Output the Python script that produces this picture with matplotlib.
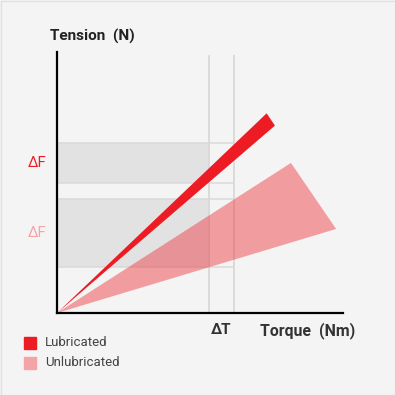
import matplotlib
matplotlib.use('Agg')
import matplotlib.pyplot as plt
from matplotlib.patches import Polygon, Rectangle

plt.rcParams['font.family'] = ['Roboto', 'DejaVu Sans']

# torque / tension in arbitrary units (axes run 0..10)
torque_marks = [5.31, 6.19]
lub_tip = [(7.33, 7.65), (7.62, 7.18)]
unlub_tip = [(8.18, 5.75), (9.76, 3.22)]
lub_band = (4.98, 6.51)
unlub_band = (1.76, 4.37)
series = ['Lubricated', 'Unlubricated']

RED = '#ed1c24'
PINK = '#f4a3a6'
BG = '#f4f4f4'

fig = plt.figure(figsize=(3.95, 3.95), dpi=100, facecolor=BG)
ax = fig.add_axes([57 / 395, 82 / 395, 286 / 395, 261 / 395])
ax.set_facecolor('none')
ax.set_xlim(0, 10)
ax.set_ylim(0, 10)
ax.set_xticks([])
ax.set_yticks([])
for s in ['top', 'right']:
    ax.spines[s].set_visible(False)
for s in ['left', 'bottom']:
    ax.spines[s].set_color('black')
    ax.spines[s].set_linewidth(1.6)
    ax.spines[s].set_zorder(6)

# shaded bands up to first torque mark, edge lines to second
for lo, hi in [lub_band, unlub_band]:
    ax.fill_between([0, torque_marks[0]], lo, hi, color='#e2e2e2', lw=0, zorder=1)
    ax.hlines([lo, hi], 0, torque_marks[1], color='#d9d9d9', lw=1.1, zorder=1.5)

ax.vlines(torque_marks, 0, 9.88, color='#d9d9d9', lw=1.3, zorder=2)

ax.add_patch(Polygon([(0, 0)] + unlub_tip, closed=True, color=RED, alpha=0.4,
                     lw=0, zorder=3))
ax.add_patch(Polygon([(0, 0)] + lub_tip, closed=True, color=RED, lw=0, zorder=4))

# labels
ax.text(-0.38, sum(lub_band) / 2, 'ΔF', color=RED, fontsize=10.8,
        ha='right', va='center')
ax.text(-0.38, sum(unlub_band) / 2, 'ΔF', color=PINK, fontsize=10.8,
        ha='right', va='center')
ax.text(sum(torque_marks) / 2, -0.66, 'ΔT', color='#333333', fontsize=11,
        fontweight='bold', ha='center', va='center')
ax.text(7.1, -0.66, 'Torque  (Nm)', color='#333333', fontsize=11.4,
        fontweight='bold', ha='left', va='center')
ax.text(-0.25, 10.6, 'Tension  (N)', color='#222222', fontsize=11.1,
        fontweight='bold', ha='left', va='center')

# legend
for i, (name, col) in enumerate(zip(series, [RED, PINK])):
    y = 1 - (343 + 20 * i) / 395
    fig.patches.append(Rectangle((24 / 395, y - 6 / 395), 12 / 395, 12 / 395,
                                 transform=fig.transFigure, color=col))
    fig.text(45 / 395, y, name, color='#444444', fontsize=9.5, va='center')

fig.patches.append(Rectangle((0.5 / 395, 0.5 / 395), 394 / 395, 394 / 395,
                             transform=fig.transFigure, fill=False,
                             edgecolor='#e0e0e0', lw=1))

fig.savefig('out.png', dpi=100, facecolor=BG)
